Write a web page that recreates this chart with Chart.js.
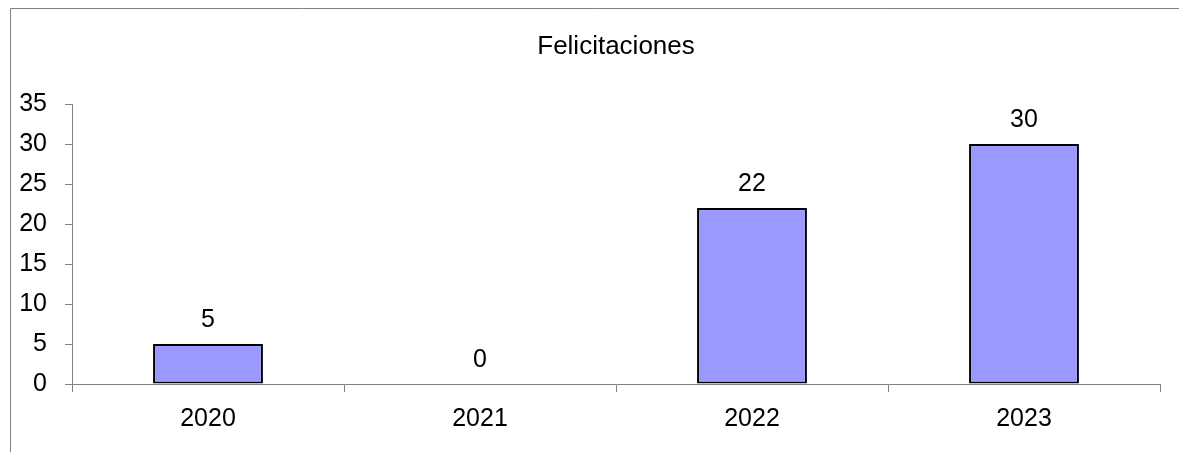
<!DOCTYPE html>
<html>
<head>
<meta charset="utf-8">
<script src="https://cdn.jsdelivr.net/npm/chart.js@4.4.0/dist/chart.umd.min.js"></script>
<style>
  html, body { margin: 0; padding: 0; background: #fff; }
  #wrap { width: 1179px; height: 452px; position: relative; }
</style>
</head>
<body>
<div id="wrap"><canvas id="chart"></canvas></div>
<script>
// datos del gráfico
const categories = ['2020', '2021', '2022', '2023'];
const felicitaciones = [5, 0, 22, 30];
const chartTitle = 'Felicitaciones';

const FONT = '"Liberation Sans", Arial, sans-serif';
const AXIS_GREY = '#808080';

// marco, título y etiquetas de valor
const extras = {
  id: 'extras',
  beforeDraw(chart) {
    const ctx = chart.ctx;
    ctx.save();
    ctx.strokeStyle = AXIS_GREY;
    ctx.lineWidth = 1;
    ctx.beginPath();
    ctx.moveTo(10.5, chart.height);
    ctx.lineTo(10.5, 8.5);
    ctx.lineTo(chart.width, 8.5);
    ctx.stroke();
    ctx.restore();
  },
  afterDatasetsDraw(chart) {
    const ctx = chart.ctx;
    const area = chart.chartArea;
    ctx.save();
    ctx.fillStyle = '#000';
    ctx.font = '26px ' + FONT;
    ctx.textAlign = 'center';
    ctx.textBaseline = 'middle';
    ctx.fillText(chartTitle, (area.left + area.right) / 2, 47);

    const meta = chart.getDatasetMeta(0);
    ctx.font = '25px ' + FONT;
    ctx.textBaseline = 'alphabetic';
    meta.data.forEach((bar, i) => {
      ctx.fillText(String(felicitaciones[i]), bar.x, bar.y - 17);
    });
    ctx.restore();
  }
};

// 创建图表
const ctx = document.getElementById('chart').getContext('2d');
new Chart(ctx, {
  type: 'bar',
  data: {
    labels: categories,
    datasets: [{
      label: chartTitle,
      data: felicitaciones,
      backgroundColor: '#9999ff',
      borderColor: '#000000',
      borderWidth: 2,
      borderSkipped: false,
      barPercentage: 0.404,
      categoryPercentage: 1
    }]
  },
  options: {
    responsive: true,
    maintainAspectRatio: false,
    animation: false,
    layout: {
      padding: { top: 104, right: 19, bottom: 0, left: 0 }
    },
    scales: {
      x: {
        grid: {
          display: true,
          drawOnChartArea: false,
          offset: true,
          tickLength: 8,
          color: AXIS_GREY
        },
        border: { display: true, color: AXIS_GREY, width: 1 },
        ticks: {
          color: '#000',
          padding: 12,
          font: { family: FONT, size: 25 }
        },
        afterFit(scale) { scale.height = 68; }
      },
      y: {
        min: 0,
        max: 35,
        grid: {
          display: true,
          drawOnChartArea: false,
          tickLength: 7,
          color: AXIS_GREY
        },
        border: { display: true, color: AXIS_GREY, width: 1 },
        ticks: {
          stepSize: 5,
          color: '#000',
          padding: 18,
          font: { family: FONT, size: 25 }
        },
        afterFit(scale) { scale.width = 72; }
      }
    },
    plugins: {
      legend: { display: false },
      title: { display: false },
      tooltip: { enabled: false }
    }
  },
  plugins: [extras]
});
</script>
</body>
</html>
